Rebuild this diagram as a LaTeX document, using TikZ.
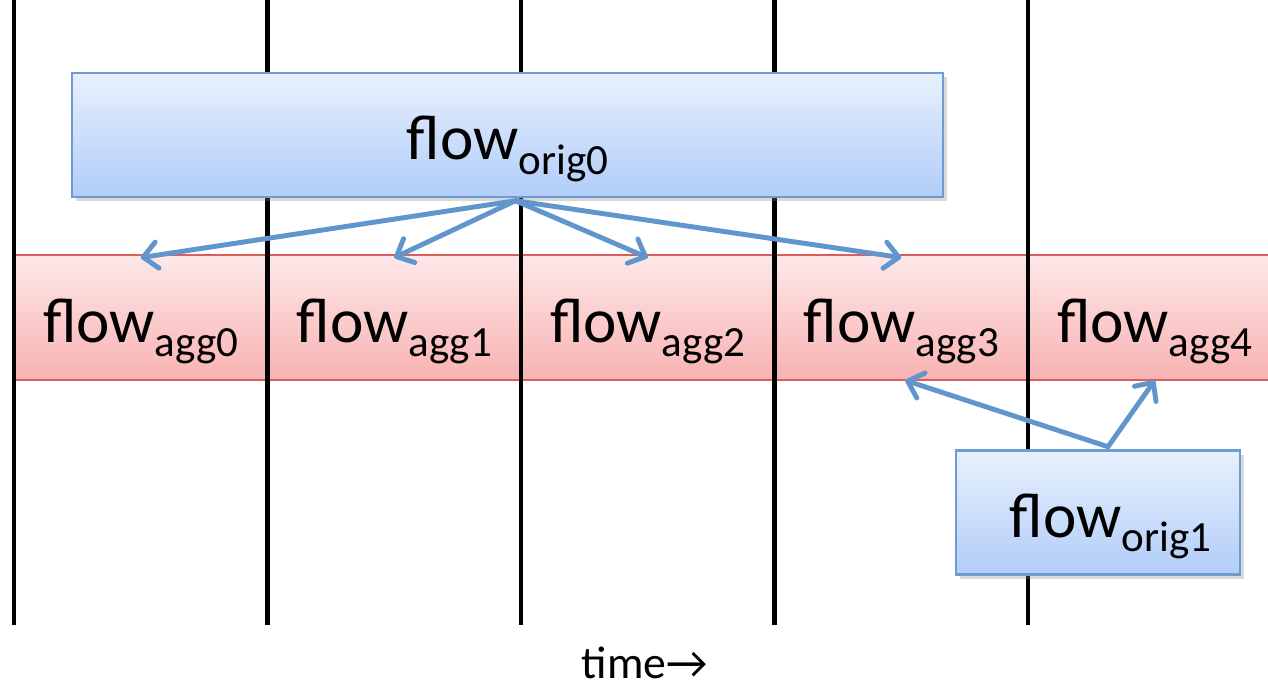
\documentclass[tikz,border=0pt]{standalone}
\usepackage{fontspec}
\setmainfont{Carlito}
\usetikzlibrary{arrows.meta,shadows}

\definecolor{origtop}{RGB}{232,240,253}
\definecolor{origbottom}{RGB}{177,205,249}
\definecolor{origline}{RGB}{110,156,210}
\definecolor{aggtop}{RGB}{253,232,232}
\definecolor{aggbottom}{RGB}{249,178,178}
\definecolor{aggline}{RGB}{214,96,94}
\definecolor{arrowblue}{RGB}{96,150,204}

\newcommand{\flowname}[1]{flow\raisebox{-8pt}{\fontsize{24.5}{28}\selectfont #1}}

\tikzset{
  timeline/.style={line width=2.3pt, black},
  origbox/.style={draw=origline, line width=1.4pt, top color=origtop, bottom color=origbottom,
    drop shadow={shadow xshift=2pt, shadow yshift=-2.5pt, opacity=0.3},
    minimum height=2.48cm, inner sep=0pt, text height=1.3cm, text depth=0.3cm,
    font=\fontsize{36}{40}\selectfont},
  aggcell/.style={minimum width=5.07cm, minimum height=2.5cm, inner sep=0pt,
    text height=1.3cm, text depth=0.3cm, font=\fontsize{36}{40}\selectfont},
  flowarrow/.style={draw=arrowblue, line width=2.8pt, line cap=round,
    -{Straight Barb[round,length=8pt,width=15pt]}},
}

\begin{document}
\begin{tikzpicture}
\useasboundingbox (0,0) rectangle (25.36,13.8);

% aggregated flows band
\path[draw=aggline, line width=0.8pt, top color=aggtop, bottom color=aggbottom]
  (0.28,6.2) rectangle (25.6,8.7);

% time slots
\foreach \x in {0.28,5.35,10.42,15.49,20.56}
{
\draw[timeline] (\x,13.8)--(\x,1.3);
}

\foreach \i in {0,...,4}
{
\node[aggcell] (agg\i) at ({0.28+5.07*(\i+0.5)},7.45) {\flowname{agg\i}};
}

% original flows
\node[origbox, minimum width=17.42cm] (orig0) at (10.15,11.1) {\flowname{orig0}};
\node[origbox, minimum width=5.68cm] (orig1) at (21.96,3.55) {\hspace*{0.5cm}\flowname{orig1}};

\coordinate (fork0) at ([shift={(0.16,-0.05)}]orig0.south);
\coordinate (fork1) at ([shift={(0.2,0.05)}]orig1.north);

\foreach \i in {0,1,2,3}
{
\draw[flowarrow] (fork0) -- ([yshift=-0.06cm]agg\i.north);
}
\draw[flowarrow] (fork1) -- ([xshift=0.08cm]agg3.south);
\draw[flowarrow] (fork1) -- (agg4.south);

\node[font=\fontsize{26}{30}\selectfont] (time) at (12.9,0.55) {time→};

\end{tikzpicture}
\end{document}
